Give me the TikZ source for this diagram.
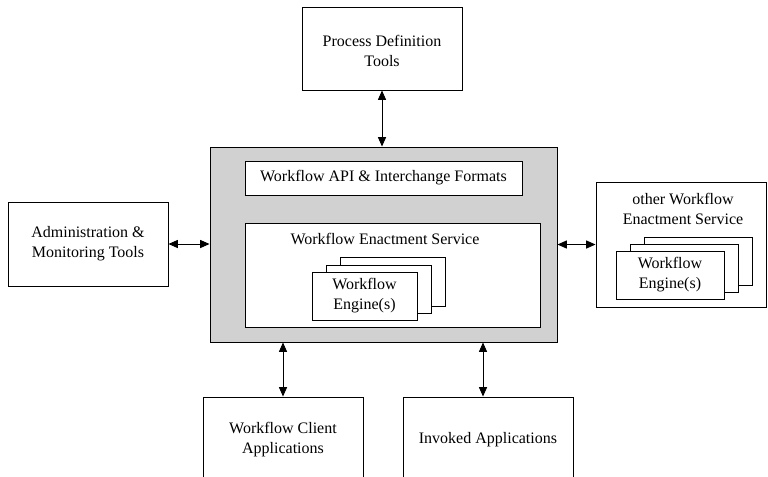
\documentclass[tikz,border=0pt]{standalone}
\usepackage{fontspec}
\setmainfont{Liberation Serif}
\usetikzlibrary{arrows.meta,fit,positioning}
\begin{document}
\begin{tikzpicture}[x=0.75pt,y=-0.75pt,
  box/.style={draw=black,line width=0.7pt,fill=white,inner sep=0pt},
  shaded/.style={draw=black,line width=0.7pt,fill=black!18,inner sep=0pt},
  lbl/.style={align=center,inner sep=0pt,font=\fontsize{12}{15}\selectfont},
  arr/.style={{Triangle[length=7pt,width=6pt]}-{Triangle[length=7pt,width=6pt]},line width=0.7pt}]
\useasboundingbox (0,0) rectangle (768,476);
\clip (0,0) rectangle (768,476);
% top
\node[box,fit={(302,7) (462,90)}] (pdt) {};
\node[lbl] (pdtt) at (382,51) {Process Definition\\Tools};
% main shaded box
\node[shaded,fit={(210,147) (557,342)}] (main) {};
\node[box,fit={(245,161) (522,195)}] (api) {};
\node[lbl] (apit) at (api.center) {Workflow API \& Interchange Formats};
\node[box,fit={(245,223) (540,327)}] (wes) {};
\node[lbl] (westitle) at (385,239) {Workflow Enactment Service};
\node[box,fit={(340,257) (445,306)}] (e3) {};
\node[box,fit={(326,265) (431,313)}] (e2) {};
\node[box,fit={(312,272) (417,320)}] (e1) {};
\node[lbl] (e1t) at (e1.center) {Workflow\\Engine(s)};
% left
\node[box,fit={(8,202) (168,286)}] (admin) {};
\node[lbl] (admint) at (admin.center) {Administration \&\\Monitoring Tools};
% right
\node[box,fit={(596,182) (766,307)}] (owes) {};
\node[lbl] (owestitle) at (683,209) {other Workflow\\Enactment Service};
\node[box,fit={(644,237) (752,285)}] (r3) {};
\node[box,fit={(630,244) (738,292)}] (r2) {};
\node[box,fit={(616,251) (724,299)}] (r1) {};
\node[lbl] (r1t) at (r1.center) {Workflow\\Engine(s)};
% bottom
\node[box,fit={(203,397) (363,486)}] (client) {};
\node[lbl] (clientt) at (283,440) {Workflow Client\\Applications};
\node[box,fit={(403,397) (573,486)}] (inv) {};
\node[lbl] (invt) at (488,440) {Invoked Applications};
% connectors
\draw[arr] (pdt.south) -- (pdt.south |- main.north);
\draw[arr] (admin.east) -- (admin.east -| main.west);
\draw[arr] (main.east |- owes.west) -- (owes.west);
\draw[arr] (client.north |- main.south) -- (client.north);
\draw[arr] ([xshift=-3.75pt]inv.north |- main.south) -- ([xshift=-3.75pt]inv.north);
\end{tikzpicture}
\end{document}
